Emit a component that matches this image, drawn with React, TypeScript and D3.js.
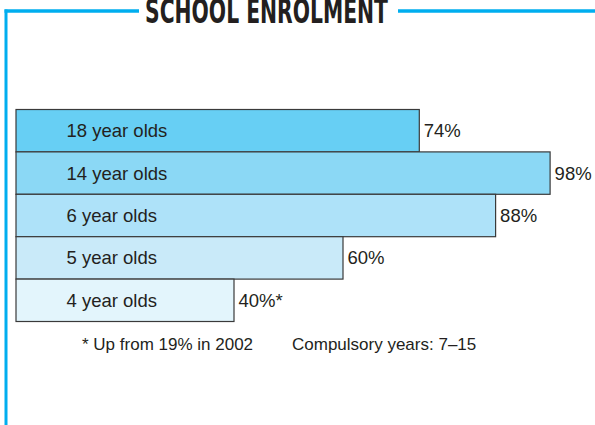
import React from "react";
import * as d3 from "d3";

const categories = ["18 year olds", "14 year olds", "6 year olds", "5 year olds", "4 year olds"];
const values = [74, 98, 88, 60, 40];
const valueLabels = ["74%", "98%", "88%", "60%", "40%*"];
const barColors = ["#67cff4", "#8bd8f5", "#aee2f9", "#c9eaf9", "#e3f5fc"];
const title = "SCHOOL ENROLMENT";
const footnotes = ["* Up from 19% in 2002", "Compulsory years: 7\u201315"];

const W = 595;
const H = 425;
const FRAME = "#00aeef";
const TEXT = "#231f20";

export default function App() {
  const x = d3.scaleLinear().domain([0, 100]).range([16, 561]);
  const y = d3.scaleBand<string>().domain(categories).range([109.5, 321.5]).padding(0);
  const bh = y.bandwidth();
  const font = "'Liberation Sans', Arial, Helvetica, sans-serif";

  return (
    <svg
      width={W}
      height={H}
      style={{ position: "absolute", left: 0, top: 0, background: "#fff" }}
      fontFamily={font}
    >
      {/* frame */}
      <line x1={6} y1={9.5} x2={6} y2={H} stroke={FRAME} strokeWidth={3} />
      <line x1={4.5} y1={11} x2={139} y2={11} stroke={FRAME} strokeWidth={3.5} />
      <line x1={398} y1={11} x2={W} y2={11} stroke={FRAME} strokeWidth={3.5} />
      <text
        x={145}
        y={23}
        fontFamily="'Liberation Sans Narrow', 'DejaVu Sans Condensed', 'Arial Narrow', sans-serif"
        fontWeight="bold"
        fontSize={33}
        fill={TEXT}
        textLength={243}
        lengthAdjust="spacingAndGlyphs"
      >
        {title}
      </text>

      {/* bars */}
      {categories.map((c, i) => {
        const y0 = y(c)!;
        return (
          <g key={c}>
            <rect
              x={x(0)}
              y={y0}
              width={x(values[i]) - x(0)}
              height={bh}
              fill={barColors[i]}
              stroke="#3a3a3a"
              strokeWidth={1.2}
            />
            <text x={66.5} y={y0 + bh / 2 + 6.5} fontSize={18.5} fill={TEXT}>
              {c}
            </text>
            <text x={x(values[i]) + 4.5} y={y0 + bh / 2 + 6.5} fontSize={18.5} fill={TEXT}>
              {valueLabels[i]}
            </text>
          </g>
        );
      })}

      {/* footnotes */}
      <text x={82} y={349.5} fontSize={17} fill={TEXT}>
        {footnotes[0]}
      </text>
      <text x={292} y={349.5} fontSize={17} fill={TEXT}>
        {footnotes[1]}
      </text>
    </svg>
  );
}
